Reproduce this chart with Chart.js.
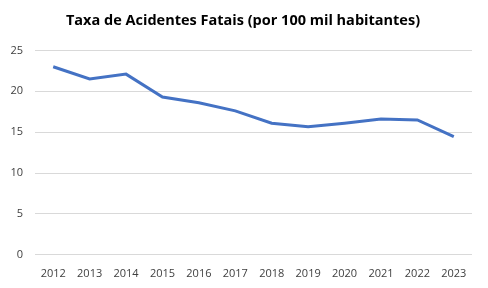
<!DOCTYPE html>
<html>
<head>
<meta charset="utf-8">
<script src="https://cdn.jsdelivr.net/npm/chart.js@4"></script>
<style>
  html, body { margin: 0; padding: 0; background: #fff; }
  #wrap { width: 488px; height: 288px; }
</style>
</head>
<body>
<div id="wrap"><canvas id="grafico"></canvas></div>
<script>
// dados do gráfico
const anos = ["2012", "2013", "2014", "2015", "2016", "2017", "2018", "2019", "2020", "2021", "2022", "2023"];
const taxa = [23.0, 21.5, 22.1, 19.3, 18.6, 17.6, 16.1, 15.65, 16.1, 16.6, 16.5, 14.45];
const ticksY = [0, 5, 10, 15, 20, 25];

const fonte = "'Open Sans', 'Liberation Sans', sans-serif";

new Chart(document.getElementById("grafico"), {
  type: "line",
  data: {
    labels: anos,
    datasets: [{
      label: "Taxa",
      data: taxa,
      borderColor: "#4472C4",
      borderWidth: 3,
      pointRadius: 0,
      tension: 0,
      fill: false
    }]
  },
  options: {
    responsive: true,
    maintainAspectRatio: false,
    animation: false,
    layout: { padding: { left: 6, right: 8, top: 6, bottom: 4 } },
    plugins: {
      legend: { display: false },
      tooltip: { enabled: false },
      title: {
        display: true,
        text: "Taxa de Acidentes Fatais (por 100 mil habitantes)",
        color: "#000",
        font: { family: fonte, size: 14.5, weight: "bold" },
        padding: { top: 6, bottom: 21 }
      }
    },
    scales: {
      x: {
        offset: true,
        grid: { display: false },
        border: { display: false },
        ticks: { color: "#404040", font: { family: fonte, size: 11 }, maxRotation: 0, padding: 4 }
      },
      y: {
        min: 0,
        max: 25,
        afterBuildTicks: (ax) => { ax.ticks = ticksY.map(v => ({ value: v })); },
        afterFit: (ax) => { ax.width = 29; },
        grid: { color: "#d9d9d9", lineWidth: 1, drawTicks: false },
        border: { display: false },
        ticks: { color: "#404040", font: { family: fonte, size: 11 }, padding: 12 }
      },
      // eixo vazio só para dar margem à direita
      yDir: {
        position: "right",
        grid: { display: false },
        border: { display: false },
        ticks: { display: false },
        afterFit: (ax) => { ax.width = 8; }
      }
    }
  }
});
</script>
</body>
</html>
